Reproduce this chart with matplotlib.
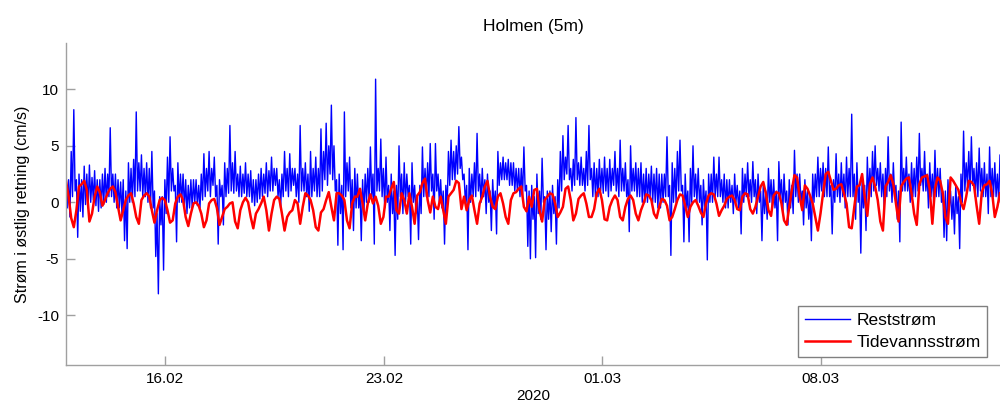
import matplotlib
matplotlib.use("Agg")
import matplotlib.pyplot as plt
import pandas as pd

plt.rcParams['font.family'] = ['Liberation Sans', 'DejaVu Sans']
plt.rcParams['axes.unicode_minus'] = False

# ---- data ----
start_time = "2020-02-12 19:40"
rest_step = "1h"   # Reststrøm readings, hourly (alternating upper/lower edge of the noisy band)
tide_step = "2h"   # Tidevannsstrøm readings, 2-hourly

reststrom = [
    1.8, -0.5, 2.0, -1.3, 4.5, 0.5, 8.2, 1.0, 2.0, -3.1, 2.5, -0.8, 2.0, -1.3, 3.2, -0.2, 2.5, -0.5, 3.3, 0.0,
    2.2, 0.2, 2.8, -0.3, 2.0, -0.8, 2.0, -0.5, 2.5, -0.2, 3.0, 0.0, 2.5, 0.5, 6.6, 0.5, 2.5, 0.0, 2.5, -0.5,
    2.0, -0.5, 1.8, -1.0, 2.0, -3.4, 1.0, -4.1, 3.5, 0.0, 3.0, 0.0, 3.8, 0.5, 8.0, 1.0, 3.5, 1.0, 4.2, 0.5,
    3.0, 0.5, 3.5, 0.0, 3.0, -0.5, 4.5, -0.5, 1.0, -4.8, -1.0, -8.1, 0.5, -2.0, 0.5, -6.0, 2.0, -1.0, 4.0, 0.0,
    5.8, 1.0, 3.0, 1.0, 1.5, -3.5, 3.5, 0.0, 2.5, 0.0, 2.5, -0.5, 2.0, -1.0, 1.5, -0.5, 2.0, -0.5, 2.0, 0.0,
    2.0, -0.3, 1.5, -0.5, 2.5, 0.2, 4.3, 0.5, 3.0, 1.0, 4.5, 0.5, 3.0, 1.5, 4.0, 0.5, 1.5, -3.7, 2.0, 0.5,
    1.5, -2.0, 3.5, 0.5, 3.0, 0.8, 6.8, 1.0, 3.5, 0.8, 4.5, 1.0, 2.5, 0.5, 3.2, 0.5, 2.5, 0.8, 3.5, 0.5,
    2.5, 0.5, 2.8, 0.0, 2.0, -0.3, 2.0, 0.0, 2.5, 0.3, 3.0, 0.5, 2.5, 0.8, 3.5, 0.5, 2.8, 1.0, 4.0, 1.0,
    3.0, 1.5, 3.0, 0.5, 2.0, -0.5, 2.5, 0.5, 4.5, 1.0, 3.0, 0.5, 4.3, 1.0, 3.0, 1.5, 3.0, 0.5, 2.5, 0.0,
    6.8, 1.0, 3.0, 1.0, 3.5, 0.5, 2.5, -0.8, 4.5, 0.5, 3.0, 1.0, 4.0, 0.5, 3.0, 0.5, 6.5, 1.0, 4.5, 2.0,
    7.0, 1.5, 5.0, 2.5, 8.6, 2.0, 5.0, 1.0, 2.0, -3.8, 2.5, -1.0, 1.5, -4.2, 8.0, 0.5, 3.5, 1.0, 4.0, -0.5,
    2.0, -2.5, 3.0, -0.5, 2.5, -0.5, 1.0, -3.4, 2.0, -1.0, 2.5, 0.0, 3.0, 0.0, 4.9, 0.5, 2.5, -3.7, 10.9, 1.0,
    3.0, 1.0, 5.6, 0.5, 3.0, -0.5, 4.0, 0.0, 1.5, -2.5, 2.5, -1.0, 1.0, -4.7, 1.5, -1.5, 5.0, 0.5, 2.5, -1.0,
    3.5, 0.0, 2.5, 0.5, 1.5, -3.7, 3.5, 0.0, 1.5, -1.0, 0.5, -3.3, 1.5, -1.0, 4.9, 0.5, 3.0, 0.5, 3.5, 0.5,
    5.2, 1.0, 2.5, -1.5, 5.2, 1.0, 2.5, 0.0, 2.0, -0.5, 1.0, -3.7, 1.5, -0.5, 4.5, 1.5, 5.5, 2.0, 4.5, 2.0,
    5.0, 2.5, 6.7, 3.0, 4.0, 2.0, 2.5, 0.0, 1.5, -4.2, 3.0, 0.0, 2.5, 0.5, 3.5, 0.5, 6.1, 1.0, 2.5, 0.0,
    3.0, 0.5, 2.0, -1.0, 2.5, 0.0, 1.0, -2.5, 2.0, -0.5, 1.0, -2.8, 4.5, 1.5, 3.5, 2.0, 4.0, 2.0, 3.5, 2.0,
    3.8, 1.5, 3.5, 1.5, 3.5, 1.0, 3.0, 1.0, 3.0, 0.5, 3.0, 0.5, 4.9, 1.0, 1.5, -3.9, 1.0, -5.0, 1.5, -1.5,
    0.5, -4.9, 2.5, -1.0, 1.0, -1.5, 3.9, 0.0, 0.5, -4.2, 1.0, -1.5, 1.0, -2.6, 1.5, -1.0, 0.5, -3.7, 2.0, -0.5,
    4.5, 1.0, 5.9, 2.0, 4.0, 2.5, 6.8, 2.0, 3.0, 1.0, 3.8, 1.5, 7.5, 2.0, 3.5, 1.5, 4.0, 1.5, 3.0, 1.0,
    4.5, 1.5, 6.8, 2.0, 3.0, 0.5, 3.5, 0.5, 3.0, 0.5, 3.8, 1.0, 3.0, 0.8, 4.0, 1.0, 3.0, 0.5, 3.8, 1.0,
    3.0, 1.5, 4.5, 1.0, 3.0, 0.5, 5.5, 1.0, 3.0, 1.0, 3.5, 0.5, 2.0, -2.6, 5.0, 1.0, 3.0, 1.0, 3.5, 0.5,
    3.0, 0.5, 3.5, 0.0, 2.5, 0.0, 3.0, 0.0, 2.5, 0.5, 3.2, 0.0, 2.5, 0.0, 3.0, -0.5, 2.5, -0.5, 2.5, 0.0,
    2.5, 0.5, 5.8, 0.5, 1.5, -4.7, 3.5, 0.0, 3.0, 0.0, 4.5, 1.0, 5.5, 1.0, 1.5, -3.5, 2.5, -0.5, 1.0, -3.5,
    3.0, 0.0, 5.0, 0.5, 2.5, 0.0, 3.0, 0.0, 1.5, -2.0, 2.0, -0.5, 1.0, -5.1, 2.5, 0.0, 2.5, 0.0, 4.0, 0.5,
    2.5, 0.5, 4.0, 0.5, 2.0, 0.0, 2.5, -0.5, 2.0, -0.5, 2.0, 0.0, 1.5, -1.0, 2.5, 0.0, 1.5, -0.5, 1.0, -2.8,
    3.0, 0.0, 2.5, 0.5, 3.5, 0.5, 2.0, 0.0, 3.6, 0.5, 2.0, -1.0, 2.5, 0.0, 1.0, -3.4, 1.5, -1.0, 1.0, -1.5,
    3.0, 0.0, 2.0, -0.5, 2.0, -0.5, 1.0, -3.4, 3.6, 0.5, 2.0, -1.0, 2.5, 0.0, 1.0, -2.0, 2.0, -0.5, 1.5, -1.0,
    4.6, 0.5, 2.5, 0.0, 2.5, 0.0, 1.0, -2.0, 2.0, -0.5, 1.0, -1.5, 0.5, -3.4, 2.5, 0.0, 2.5, 0.5, 4.0, 0.5,
    3.0, 1.0, 3.5, 0.5, 3.0, 0.5, 4.9, 0.5, 1.5, -2.8, 2.0, 0.0, 4.3, 0.5, 2.5, 0.0, 3.5, 0.5, 2.5, -0.5,
    4.0, 0.5, 3.0, 0.5, 7.8, 0.5, 2.5, -1.5, 3.5, 0.0, 1.5, -4.5, 2.0, -0.5, 1.5, -2.5, 4.0, 0.5, 3.0, 0.5,
    4.5, 1.0, 5.0, 1.5, 3.0, 1.0, 3.5, 0.5, 2.5, -0.5, 3.0, 0.5, 5.8, 1.0, 2.5, 0.0, 3.5, 0.5, 1.5, -1.5,
    1.0, -3.5, 7.1, 1.0, 3.0, 1.0, 4.0, 1.0, 2.5, 0.0, 3.5, 0.5, 3.0, 0.5, 4.0, 1.0, 6.1, 1.5, 3.0, 1.0,
    4.5, 1.0, 2.5, -0.5, 3.5, 0.5, 2.5, 0.0, 4.6, 0.5, 3.0, 0.5, 3.0, 0.0, 1.0, -3.1, 1.0, -3.4, 2.0, -0.5,
    1.0, -1.5, 0.5, -2.8, 1.5, -1.0, 0.5, -4.1, 2.5, 0.0, 6.3, 1.0, 3.5, 1.5, 4.5, 1.0, 5.8, 1.5, 3.0, 0.5,
    3.5, 0.5, 4.8, 1.0, 3.0, 0.5, 3.5, 0.5, 2.5, -1.0, 4.9, 0.5, 3.0, 0.5, 3.5, 0.5, 2.5, 0.0, 4.2, 1.0,
]

tidevannsstrom = [
    1.9, 0.5, -1.4, -2.2, -0.7, 1.4, 1.6, 1.9, 1.1, -1.7,
    -1.0, 0.5, 1.4, 0.9, -0.3, 0.2, 0.8, 1.2, 1.4, 0.9,
    -0.4, -1.6, -0.7, 0.2, 0.6, 0.8, -0.1, -1.3, -1.9, 0.2,
    0.6, 0.8, 0.5, -0.7, -1.8, -0.7, 0.2, 0.4, 0.2, -0.7,
    -1.8, -1.6, -0.1, 0.5, 0.7, 0.2, -1.3, -2.1, -1.0, -0.1,
    0.0, -0.3, -1.0, -2.2, -1.6, -0.1, 0.2, 0.3, -0.5, -2.0,
    -1.3, -0.6, -0.4, -0.1, 0.0, -1.7, -2.3, -0.7, 0.0, 0.4,
    0.0, -1.3, -2.3, -1.0, -0.6, -0.1, 0.5, -0.7, -2.5, -1.0,
    0.2, 0.5, 0.3, -1.0, -2.5, -1.3, -0.9, -0.7, 0.2, -0.1,
    -1.9, -0.4, 0.8, 0.6, 0.2, -0.7, -2.2, -2.5, -0.9, -0.6,
    0.2, 0.9, -0.4, -1.6, 0.8, 0.8, 0.6, 0.2, -1.6, -2.3,
    -0.1, 0.5, 0.5, 1.2, -0.1, -1.6, -0.1, 0.7, -0.1, 0.5,
    -0.3, -1.9, -1.3, 0.5, 0.5, 1.2, 1.8, -0.7, -1.0, 0.8,
    0.2, -1.0, 0.8, -0.4, -1.9, 0.6, 0.9, 1.7, 2.1, 0.2,
    -0.9, 0.5, -0.4, -0.6, 0.5, -0.7, -1.9, 0.5, 0.8, 1.1,
    1.9, 1.7, -0.6, 0.5, -0.7, 0.2, 0.6, -0.7, -1.9, -0.1,
    0.5, 1.4, 1.9, 0.5, -0.4, -0.6, 0.5, 0.8, -0.1, -1.3,
    -1.9, 0.2, 0.8, 0.9, 1.2, 1.4, -0.4, -0.8, 0.5, -0.4,
    1.1, 1.2, -0.7, -1.7, 0.2, 0.5, 0.8, 0.7, -0.1, -1.3,
    -0.9, -0.4, 1.2, 1.4, 0.2, -1.6, -1.0, 0.3, 0.6, 0.8,
    -0.1, -1.3, -1.3, -0.6, 0.8, 1.2, 0.2, -1.5, -1.6, -0.4,
    0.2, 0.6, 0.2, -1.3, -1.6, -0.4, 0.3, 0.6, 0.2, -1.0,
    -1.6, -0.7, -0.1, 0.7, 0.6, 0.2, -1.0, -1.4, -0.4, 0.3,
    0.2, -0.3, -1.6, -1.3, -0.6, 0.2, 0.7, 0.6, -0.3, -1.3,
    -0.4, 0.0, 0.2, -0.3, -0.9, -1.3, -0.1, 0.6, 0.8, 0.7,
    -0.1, -1.2, -0.7, -0.3, 0.3, 0.5, 0.6, 0.2, -0.6, -0.7,
    0.5, 0.8, 0.7, -0.6, -1.0, -0.4, 0.5, 1.4, 1.8, 0.8,
    -0.7, -1.2, 0.6, 0.9, 0.8, -0.1, -1.6, -2.0, -0.4, 1.1,
    2.4, 2.2, 0.5, -0.7, 1.5, 1.2, 0.6, -0.1, -1.3, -2.5,
    -1.0, 0.8, 2.5, 2.7, 1.9, 1.1, 1.2, 1.5, 1.6, 0.8,
    -0.1, -2.2, -2.3, -0.4, 1.4, 1.5, 2.5, 0.5, -1.2, 1.6,
    2.2, 1.4, 0.2, -1.7, -2.5, 1.4, 1.8, 2.4, 1.6, -0.1,
    -1.7, 1.4, 1.8, 2.1, 2.2, 0.8, -1.0, -2.0, 1.6, 2.2,
    2.3, 2.4, 1.1, -1.9, 1.2, 2.2, 1.9, 0.8, -1.3, -1.9,
    2.2, 1.9, 1.5, 1.1, 0.0, -0.6, 0.5, 1.9, 1.8, 1.5,
    -0.3, -1.9, 0.9, 1.5, 1.6, 1.9, 0.8, -1.3, -0.4, 0.8,
]

tick_dates = ["2020-02-16", "2020-02-23", "2020-03-01", "2020-03-08"]
tick_labels = ["16.02", "23.02", "01.03", "08.03"]
y_ticks = [-10, -5, 0, 5, 10]

rest_times = pd.date_range(start_time, periods=len(reststrom), freq=rest_step)
tide_times = pd.date_range(start_time, periods=len(tidevannsstrom), freq=tide_step)

fig = plt.figure(figsize=(10, 4.08), dpi=100)
ax = fig.add_axes([0.066, 0.1054, 0.934, 0.7892])

ax.plot(rest_times, reststrom, color=(0, 0, 1), lw=1.0, label="Reststrøm")
ax.plot(tide_times, tidevannsstrom, color=(1, 0, 0), lw=1.8, label="Tidevannsstrøm")

ax.set_xlim(rest_times[0], tide_times[-1])
ax.set_ylim(-14.4, 14.1)
ax.set_yticks(y_ticks)
ax.set_xticks(pd.to_datetime(tick_dates))
ax.set_xticklabels(tick_labels)

grey = "#a0a0a0"
for s in ["top", "right"]:
    ax.spines[s].set_visible(False)
for s in ["left", "bottom"]:
    ax.spines[s].set_color(grey)
    ax.spines[s].set_linewidth(1.0)
ax.tick_params(direction="in", length=6.5, width=1.0, color=grey,
               labelsize=11, labelcolor="black", pad=5)

ax.set_title("Holmen (5m)", fontsize=12.5, pad=9)
ax.set_xlabel("2020", fontsize=11, labelpad=2)
ax.set_ylabel("Strøm i østlig retning (cm/s)", fontsize=11.5, labelpad=5)

leg = ax.legend(loc="lower right", bbox_to_anchor=(0.9865, 0.024),
                borderaxespad=0, fontsize=12.5, fancybox=False,
                handlelength=2.6, handletextpad=0.35, labelspacing=0.4,
                borderpad=0.4, framealpha=1)
leg.get_frame().set_edgecolor("#808080")
leg.get_frame().set_linewidth(1.0)

fig.savefig("out.png", dpi=100)
